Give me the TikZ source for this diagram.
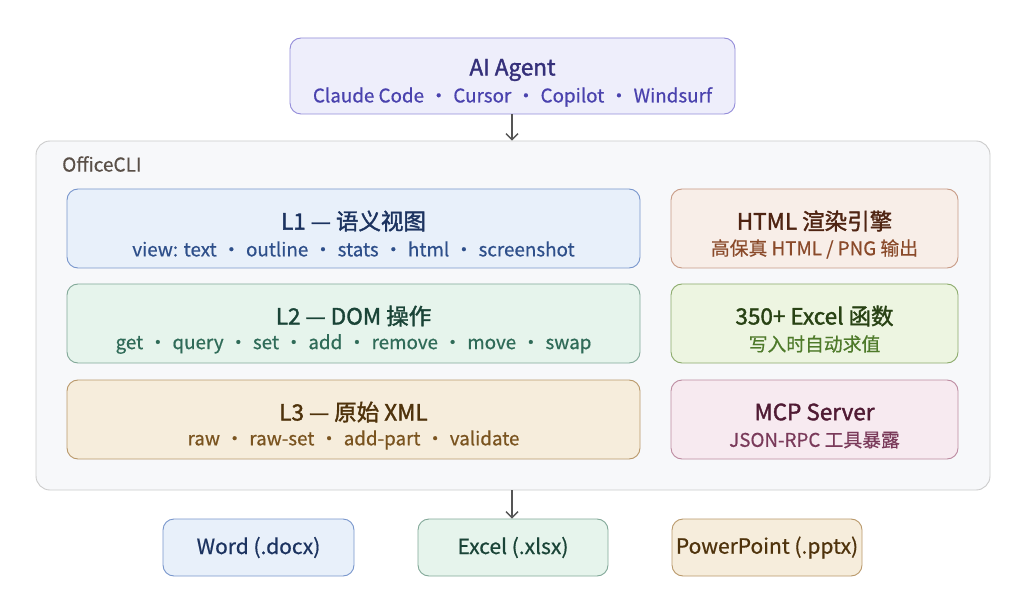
\documentclass[tikz,border=0pt]{standalone}
\usepackage{fontspec}
\setmainfont{Noto Sans CJK SC}
\newfontfamily\semib{Noto Sans CJK SC}[FakeBold=1.6]
\newfontfamily\medw{Noto Sans CJK SC}[FakeBold=0.6]
\usetikzlibrary{arrows.meta}
\definecolor{agentF}{HTML}{EEEEFB}\definecolor{agentD}{HTML}{928BD9}\definecolor{agentT}{HTML}{35307A}\definecolor{agentS}{HTML}{4A42AE}
\definecolor{blueF}{HTML}{E8F0FA}\definecolor{blueD}{HTML}{7896CC}\definecolor{blueT}{HTML}{1C3360}\definecolor{blueS}{HTML}{2E4F8A}
\definecolor{greenF}{HTML}{E6F4EC}\definecolor{greenD}{HTML}{82A898}\definecolor{greenT}{HTML}{1A4437}\definecolor{greenS}{HTML}{2F6B58}
\definecolor{sandF}{HTML}{F6EDDC}\definecolor{sandD}{HTML}{B9986A}\definecolor{sandT}{HTML}{4F330C}\definecolor{sandS}{HTML}{7A5420}
\definecolor{rustF}{HTML}{F8EEE8}\definecolor{rustD}{HTML}{C79A85}\definecolor{rustT}{HTML}{4F2412}\definecolor{rustS}{HTML}{8A4A2A}
\definecolor{limeF}{HTML}{EDF5E1}\definecolor{limeD}{HTML}{8BAA6A}\definecolor{limeT}{HTML}{284214}\definecolor{limeS}{HTML}{4E7A2A}
\definecolor{pinkF}{HTML}{F7EAF0}\definecolor{pinkD}{HTML}{BC8AA0}\definecolor{pinkT}{HTML}{501B34}\definecolor{pinkS}{HTML}{7A3A5A}
\definecolor{contF}{HTML}{F7F8FA}\definecolor{contD}{HTML}{CCCCCC}\definecolor{contT}{HTML}{5A5048}
\definecolor{arrowC}{HTML}{555555}
\newcommand{\sep}{\hspace{0.28em}•\hspace{0.28em}}
\tikzset{
  box/.style={draw, rounded corners=11pt, line width=0.9pt, inner sep=0pt},
  ttl/.style={font=\semib\fontsize{22.5}{24}\selectfont, inner sep=0pt, anchor=center},
  sub/.style={font=\medw\fontsize{18.8}{20}\selectfont, inner sep=0pt, anchor=center},
  outl/.style={box, minimum width=190pt, minimum height=57pt, font=\medw\fontsize{21}{22}\selectfont},
  conn/.style={draw=arrowC, line width=1.4pt, -{Straight Barb[length=6pt,width=12pt,line width=1.4pt]}}
}
\begin{document}
\begin{tikzpicture}[x=1pt,y=-1pt]
\useasboundingbox (0,0) rectangle (1024,609);
\fill[white] (0,0) rectangle (1024,609);
% container
\node[box, rounded corners=14pt, fill=contF, draw=contD, minimum width=954pt, minimum height=349pt] (cli) at (513,315.5) {};
\node[font=\medw\fontsize{19}{20}\selectfont, text=contT, anchor=west, inner sep=0pt] (clilbl) at (62,164) {OfficeCLI};
% agent
\node[box, fill=agentF, draw=agentD, minimum width=445pt, minimum height=76pt] (agent) at (512.5,76) {};
\node[ttl, text=agentT] (agentt) at (512.5,70) {AI Agent};
\node[sub, text=agentS] (agents) at (512.5,97) {Claude Code\sep Cursor\sep Copilot\sep Windsurf};
% left layers
\node[box, fill=blueF, draw=blueD, minimum width=573pt, minimum height=79pt] (l1) at (353.5,228.5) {};
\node[ttl, text=blueT] (l1t) at (353.5,221) {L1 — 语义视图};
\node[sub, text=blueS] (l1s) at (353.5,249) {view: text\sep outline\sep stats\sep html\sep screenshot};
\node[box, fill=greenF, draw=greenD, minimum width=573pt, minimum height=79pt] (l2) at (353.5,323.5) {};
\node[ttl, text=greenT] (l2t) at (353.5,316) {L2 — DOM 操作};
\node[sub, text=greenS] (l2s) at (353.5,344) {get\sep query\sep set\sep add\sep remove\sep move\sep swap};
\node[box, fill=sandF, draw=sandD, minimum width=573pt, minimum height=79pt] (l3) at (353.5,419.5) {};
\node[ttl, text=sandT] (l3t) at (353.5,412) {L3 — 原始 XML};
\node[sub, text=sandS] (l3s) at (353.5,440) {raw\sep raw-set\sep add-part\sep validate};
% right modules
\node[box, fill=rustF, draw=rustD, minimum width=287pt, minimum height=79pt] (html) at (814.5,228.5) {};
\node[ttl, text=rustT] (htmlt) at (814.5,221) {HTML 渲染引擎};
\node[sub, text=rustS] (htmls) at (814.5,249) {高保真 HTML / PNG 输出};
\node[box, fill=limeF, draw=limeD, minimum width=287pt, minimum height=79pt] (xl) at (814.5,323.5) {};
\node[ttl, text=limeT] (xlt) at (814.5,316) {350+ Excel 函数};
\node[sub, text=limeS] (xls) at (814.5,344) {写入时自动求值};
\node[box, fill=pinkF, draw=pinkD, minimum width=287pt, minimum height=79pt] (mcp) at (814.5,419.5) {};
\node[ttl, text=pinkT] (mcpt) at (814.5,412) {MCP Server};
\node[sub, text=pinkS] (mcps) at (814.5,440) {JSON-RPC 工具暴露};
% outputs
\node[outl, fill=blueF, draw=blueD, text=blueT, minimum width=191pt] (word) at (258.5,547.5) {Word (.docx)};
\node[outl, fill=greenF, draw=greenD, text=greenT] (excel) at (513,547.5) {Excel (.xlsx)};
\node[outl, fill=sandF, draw=sandD, text=sandT] (ppt) at (767,547.5) {PowerPoint (.pptx)};
% connectors
\draw[conn] (agent.south -| 512,0) -- (cli.north -| 512,0);
\draw[conn] (cli.south -| 512,0) -- (excel.north -| 512,0);
\end{tikzpicture}
\end{document}
